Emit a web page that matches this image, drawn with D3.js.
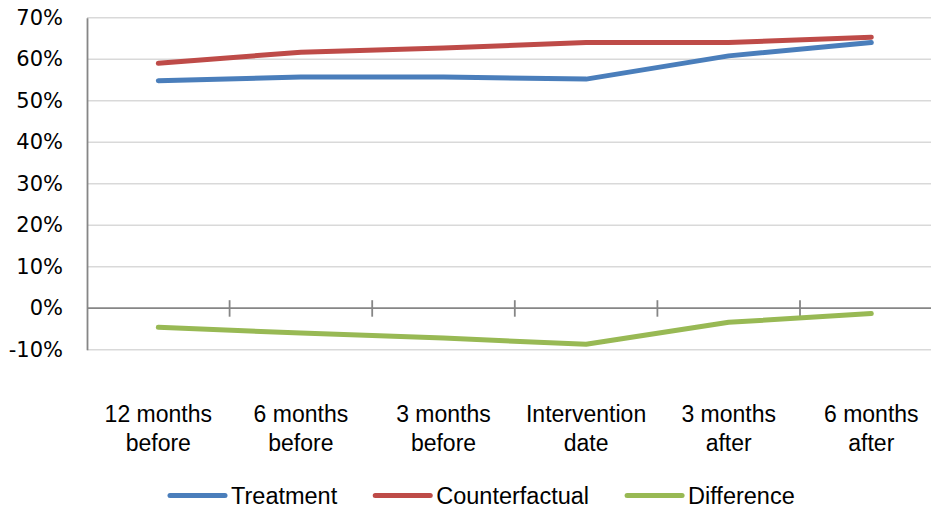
<!DOCTYPE html>
<html>
<head>
<meta charset="utf-8">
<script src="https://cdn.jsdelivr.net/npm/d3@7"></script>
<style>
  html, body { margin: 0; padding: 0; background: #fff; }
  svg { display: block; }
</style>
</head>
<body>
<svg id="chart" width="931" height="510"></svg>
<script>
// Period labels (two lines each)
const categories = [
  ["12 months", "before"],
  ["6 months", "before"],
  ["3 months", "before"],
  ["Intervention", "date"],
  ["3 months", "after"],
  ["6 months", "after"]
];
const treatment      = [0.548, 0.557, 0.557, 0.552, 0.608, 0.640];
const counterfactual = [0.590, 0.617, 0.627, 0.640, 0.640, 0.653];
const difference     = [-0.046, -0.060, -0.072, -0.087, -0.034, -0.013];
const seriesNames  = ["Treatment", "Counterfactual", "Difference"];
const seriesColors = ["#4a7ebb", "#be4b48", "#98b954"];
const yTicks = [-0.1, 0, 0.1, 0.2, 0.3, 0.4, 0.5, 0.6, 0.7];

const series = [treatment, counterfactual, difference];

const svg = d3.select("#chart");
const plotLeft = 87, plotTop = 17.7, plotBottom = 349.7, bandW = 142.6;
const plotRight = plotLeft + bandW * categories.length;

const x = d3.scaleBand()
  .domain(d3.range(categories.length))
  .range([plotLeft, plotRight])
  .paddingInner(0).paddingOuter(0);
const y = d3.scaleLinear().domain([-0.1, 0.7]).range([plotBottom, plotTop]);

// Horizontal gridlines
svg.append("g")
  .selectAll("line")
  .data(yTicks.filter(t => t !== 0))
  .join("line")
  .attr("x1", plotLeft).attr("x2", plotRight)
  .attr("y1", d => y(d)).attr("y2", d => y(d))
  .attr("stroke", "#d9d9d9").attr("stroke-width", 1.5);

// Y axis (plain hyphen for negative values)
const pct = d3.format(".0%");
const yAxis = d3.axisLeft(y)
  .tickValues(yTicks)
  .tickFormat(d => pct(d).replace("\u2212", "-"))
  .tickSize(0).tickPadding(24);
const gy = svg.append("g").attr("transform", `translate(${plotLeft},0)`).call(yAxis);
gy.select(".domain").attr("stroke", "#868686").attr("stroke-width", 1.8);
gy.selectAll("text")
  .attr("font-family", "DejaVu Sans, sans-serif")
  .attr("font-size", 21)
  .attr("fill", "#000");

// Category axis on the zero line
const gx = svg.append("g").attr("transform", `translate(0,${y(0)})`);
gx.append("line")
  .attr("x1", plotLeft).attr("x2", plotRight)
  .attr("stroke", "#868686").attr("stroke-width", 1.8);
gx.selectAll("line.tick")
  .data(d3.range(1, categories.length))
  .join("line")
  .attr("class", "tick")
  .attr("x1", d => x(d)).attr("x2", d => x(d))
  .attr("y1", -8).attr("y2", 8.5)
  .attr("stroke", "#868686").attr("stroke-width", 1.8);

// Category labels below the plot
const labels = svg.append("g")
  .attr("font-family", "Liberation Sans, Arial, sans-serif")
  .attr("font-size", 23)
  .attr("fill", "#000")
  .attr("text-anchor", "middle");
categories.forEach((c, i) => {
  const t = labels.append("text")
    .attr("x", x(i) + x.bandwidth() / 2)
    .attr("y", 422);
  c.forEach((ln, j) => {
    t.append("tspan")
      .attr("x", x(i) + x.bandwidth() / 2)
      .attr("dy", j === 0 ? 0 : 28.5)
      .text(ln);
  });
});

// Series lines
const line = d3.line()
  .x((d, i) => x(i) + x.bandwidth() / 2)
  .y(d => y(d));
svg.append("g")
  .selectAll("path")
  .data(series)
  .join("path")
  .attr("d", d => line(d))
  .attr("fill", "none")
  .attr("stroke", (d, i) => seriesColors[i])
  .attr("stroke-width", 5)
  .attr("stroke-linecap", "round")
  .attr("stroke-linejoin", "round");

// Legend
const legend = svg.append("g")
  .attr("font-family", "Liberation Sans, Arial, sans-serif")
  .attr("font-size", 23.5)
  .attr("fill", "#000");
let lx = 170;
seriesNames.forEach((name, i) => {
  legend.append("line")
    .attr("x1", lx).attr("x2", lx + 55)
    .attr("y1", 495.5).attr("y2", 495.5)
    .attr("stroke", seriesColors[i])
    .attr("stroke-width", 5)
    .attr("stroke-linecap", "round");
  const t = legend.append("text")
    .attr("x", lx + 61).attr("y", 503.5)
    .text(name);
  lx = lx + 61 + t.node().getComputedTextLength() + 38;
});
</script>
</body>
</html>
